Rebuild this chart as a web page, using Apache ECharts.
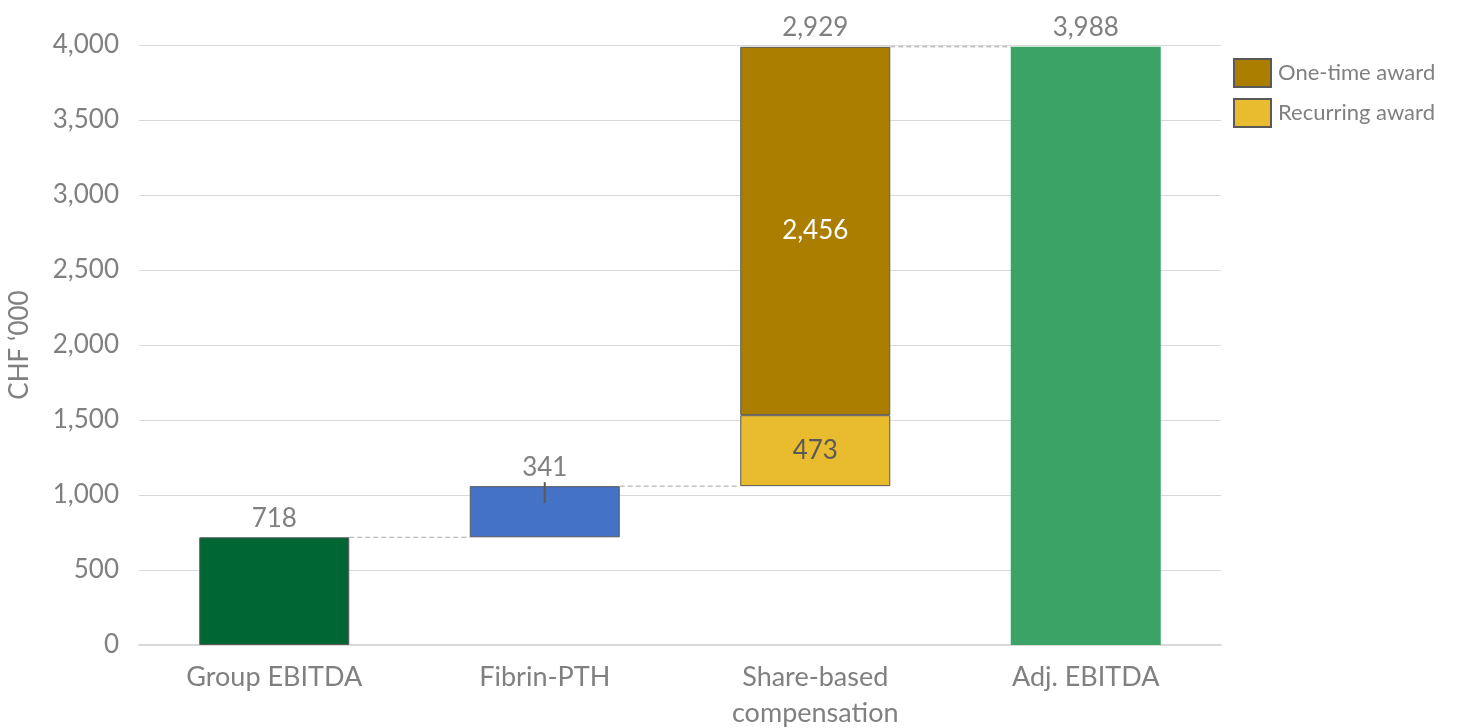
<!DOCTYPE html>
<html>
<head>
<meta charset="utf-8">
<script src="https://cdn.jsdelivr.net/npm/echarts@6/dist/echarts.min.js"></script>
<style>
  html, body { margin: 0; padding: 0; background: #fff; }
  #chart { width: 1461px; height: 728px; }
</style>
</head>
<body>
<div id="chart"></div>
<script>
// categories and values (CHF '000)
var categories = ['Group EBITDA', 'Fibrin-PTH', 'Share-based\ncompensation', 'Adj. EBITDA'];
var baseValues = [0, 718, 1059, 0];          // invisible offset of each step
var groupEbitda = [718, '-', '-', '-'];
var fibrinPth = ['-', 341, '-', '-'];
var recurringAward = ['-', '-', 473, '-'];
var oneTimeAward = ['-', '-', 2456, '-'];
var adjEbitda = ['-', '-', '-', 3988];
var stepTotals = ['-', '-', 2929, '-'];      // label above the share-based stack
var connectorLevels = [718, 1059, 3988];     // dashed line from bar i to bar i+1
var yTicks = { min: 0, max: 4000, interval: 500 };

var textColor = '#808080';
var fontFamily = 'Lato, "Open Sans", sans-serif';
var barWidth = 150;
var edge = '#595959';

function fmt(v) {
    return Number(v).toLocaleString('en-US');
}

var chart = echarts.init(document.getElementById('chart'));

function barSeries(name, data, color, border, label) {
    var s = {
        name: name,
        type: 'bar',
        stack: 'total',
        barWidth: barWidth,
        data: data,
        itemStyle: { color: color },
        emphasis: { disabled: true },
        z: 3
    };
    if (border) {
        s.itemStyle.borderColor = edge;
        s.itemStyle.borderWidth = 1;
    }
    if (label)
        s.label = label;
    return s;
}

var topLabel = {
    show: true,
    position: 'top',
    distance: 6,
    color: textColor,
    fontSize: 26,
    fontFamily: fontFamily,
    formatter: function(p) { return fmt(p.value); }
};

var options = {
    animation: false,
    grid: { left: 139, right: 240, top: 45, bottom: 83, outerBoundsMode: 'none', containLabel: false },
    legend: {
        orient: 'vertical',
        left: 1228,
        top: 53,
        itemWidth: 37,
        itemHeight: 28,
        itemGap: 10,
        icon: 'rect',
        data: ['One-time award', 'Recurring award'],
        textStyle: { color: textColor, fontSize: 22, fontFamily: fontFamily, padding: [0, 0, 0, 2] },
        selectedMode: false
    },
    xAxis: {
        type: 'category',
        data: categories,
        axisLine: { lineStyle: { color: '#d9d9d9', width: 2 } },
        axisTick: { show: false },
        axisLabel: {
            color: textColor,
            fontSize: 27,
            fontFamily: fontFamily,
            lineHeight: 36,
            margin: 14,
            interval: 0
        }
    },
    yAxis: {
        type: 'value',
        min: yTicks.min,
        max: yTicks.max,
        interval: yTicks.interval,
        name: 'CHF \u2018000',
        nameLocation: 'middle',
        nameGap: 106,
        nameTextStyle: { color: textColor, fontSize: 26, fontFamily: fontFamily },
        axisLine: { show: false },
        axisTick: { show: false },
        splitLine: { lineStyle: { color: '#d9d9d9', width: 1 } },
        axisLabel: {
            color: textColor,
            fontSize: 26,
            fontFamily: fontFamily,
            margin: 20,
            formatter: function(v) { return fmt(v); }
        }
    },
    series: [
        {
            name: 'base',
            type: 'bar',
            stack: 'total',
            barWidth: barWidth,
            data: baseValues,
            itemStyle: { color: 'transparent' },
            emphasis: { disabled: true },
            silent: true
        },
        barSeries('Group EBITDA', groupEbitda, '#006633', true, topLabel),
        barSeries('Fibrin-PTH', fibrinPth, '#4472c4', true, topLabel),
        barSeries('Recurring award', recurringAward, '#e9bc2f', true, {
            show: true, position: 'inside', color: '#595959', fontSize: 26, fontFamily: fontFamily,
            formatter: function(p) { return fmt(p.value); }
        }),
        barSeries('One-time award', oneTimeAward, '#ab7e00', true, {
            show: true, position: 'inside', color: '#ffffff', fontSize: 26, fontFamily: fontFamily,
            formatter: function(p) { return fmt(p.value); }
        }),
        barSeries('Adj. EBITDA', adjEbitda, '#3aa365', false, topLabel),
        {
            // zero-height cap carrying the total of the stacked step
            name: 'stepTotal',
            type: 'bar',
            stack: 'total',
            barWidth: barWidth,
            data: stepTotals.map(function(v) { return v === '-' ? '-' : 0; }),
            itemStyle: { color: 'transparent' },
            label: {
                show: true, position: 'top', distance: 6, color: textColor,
                fontSize: 26, fontFamily: fontFamily,
                formatter: function(p) { return fmt(stepTotals[p.dataIndex]); }
            },
            silent: true
        },
        {
            // dashed connectors between steps
            name: 'connectors',
            type: 'custom',
            silent: true,
            z: 2,
            data: connectorLevels.map(function(v, i) { return [i, v]; }),
            renderItem: function(params, api) {
                var i = api.value(0), v = api.value(1);
                var a = api.coord([i, v]);
                var b = api.coord([i + 1, v]);
                return {
                    type: 'line',
                    shape: { x1: a[0] + barWidth / 2, y1: a[1], x2: b[0] - barWidth / 2, y2: b[1] },
                    style: { stroke: '#a6a6a6', lineWidth: 1, lineDash: [5, 3] }
                };
            }
        },
        {
            // small marker line at the top of the Fibrin-PTH step
            name: 'marker',
            type: 'custom',
            silent: true,
            z: 5,
            data: [[1, 1059]],
            renderItem: function(params, api) {
                var p = api.coord([api.value(0), api.value(1)]);
                return {
                    type: 'line',
                    shape: { x1: p[0], y1: p[1] - 4, x2: p[0], y2: p[1] + 17 },
                    style: { stroke: '#595959', lineWidth: 2 }
                };
            }
        }
    ]
};

chart.setOption(options);
</script>
</body>
</html>
